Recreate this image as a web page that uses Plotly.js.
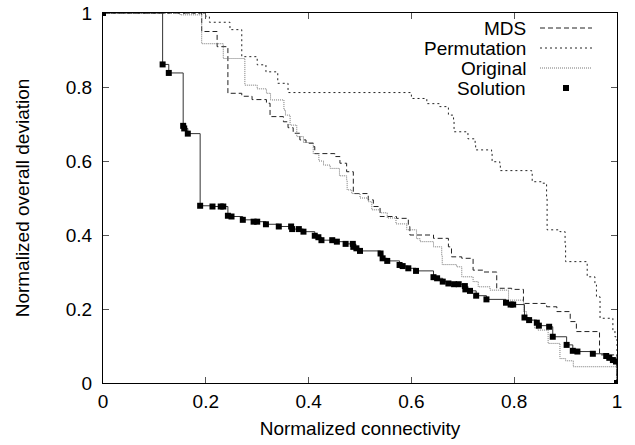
<!DOCTYPE html>
<html>
<head>
<meta charset="utf-8">
<script src="https://cdn.plot.ly/plotly-3.0.1.min.js"></script>
<style>html,body{margin:0;padding:0;background:#fff}#chart{width:635px;height:445px}</style>
</head>
<body>
<div id="chart"></div>
<script>
// ---- data ----
const mdsX = [0, 0.192, 0.222, 0.243, 0.27, 0.29, 0.318, 0.325, 0.351, 0.36, 0.37, 0.383, 0.395, 0.409, 0.412, 0.451, 0.461, 0.474, 0.487, 0.516, 0.526, 0.539, 0.571, 0.594, 0.597, 0.643, 0.672, 0.678, 0.698, 0.72, 0.74, 0.766, 0.795, 0.818, 0.863, 0.883, 0.909, 0.921, 0.966, 1.0];
const mdsY = [1, 0.95, 0.909, 0.783, 0.775, 0.766, 0.756, 0.72, 0.706, 0.69, 0.675, 0.657, 0.648, 0.639, 0.62, 0.612, 0.594, 0.571, 0.512, 0.495, 0.477, 0.45, 0.445, 0.423, 0.40, 0.391, 0.368, 0.341, 0.337, 0.305, 0.30, 0.256, 0.253, 0.215, 0.206, 0.193, 0.166, 0.139, 0.076, 0];

const permX = [0, 0.2, 0.207, 0.247, 0.27, 0.3, 0.317, 0.34, 0.36, 0.6, 0.63, 0.655, 0.672, 0.682, 0.683, 0.71, 0.724, 0.725, 0.756, 0.757, 0.772, 0.773, 0.834, 0.835, 0.855, 0.863, 0.864, 0.889, 0.899, 0.9, 0.941, 0.942, 0.957, 0.96, 0.967, 0.992, 0.996, 1.0];
const permY = [1, 0.99, 0.975, 0.955, 0.882, 0.86, 0.841, 0.81, 0.785, 0.769, 0.755, 0.747, 0.724, 0.706, 0.679, 0.66, 0.648, 0.63, 0.625, 0.598, 0.589, 0.574, 0.571, 0.544, 0.54, 0.504, 0.414, 0.409, 0.377, 0.328, 0.325, 0.287, 0.265, 0.233, 0.175, 0.143, 0.125, 0];

const origX = [0, 0.15, 0.192, 0.234, 0.276, 0.3, 0.318, 0.326, 0.352, 0.355, 0.364, 0.377, 0.39, 0.409, 0.42, 0.429, 0.442, 0.46, 0.474, 0.475, 0.484, 0.5, 0.516, 0.523, 0.54, 0.553, 0.57, 0.591, 0.61, 0.617, 0.643, 0.659, 0.66, 0.688, 0.698, 0.72, 0.73, 0.753, 0.789, 0.818, 0.824, 0.84, 0.846, 0.866, 0.889, 0.9, 0.915, 1.0];
const origY = [1, 0.995, 0.917, 0.877, 0.805, 0.795, 0.783, 0.765, 0.738, 0.724, 0.697, 0.666, 0.65, 0.62, 0.6, 0.589, 0.58, 0.56, 0.549, 0.522, 0.512, 0.5, 0.49, 0.468, 0.46, 0.446, 0.43, 0.414, 0.39, 0.382, 0.368, 0.346, 0.32, 0.314, 0.287, 0.274, 0.26, 0.251, 0.224, 0.193, 0.17, 0.148, 0.143, 0.107, 0.066, 0.06, 0.044, 0];

const solX = [0, 0.116, 0.128, 0.156, 0.158, 0.165, 0.189, 0.213, 0.229, 0.234, 0.243, 0.250, 0.272, 0.293, 0.300, 0.317, 0.342, 0.366, 0.368, 0.381, 0.390, 0.412, 0.419, 0.425, 0.446, 0.455, 0.472, 0.486, 0.487, 0.493, 0.500, 0.540, 0.544, 0.553, 0.577, 0.583, 0.594, 0.609, 0.643, 0.650, 0.661, 0.672, 0.683, 0.692, 0.704, 0.705, 0.714, 0.726, 0.746, 0.784, 0.793, 0.798, 0.820, 0.829, 0.844, 0.848, 0.868, 0.875, 0.902, 0.914, 0.923, 0.953, 0.979, 0.985, 0.992, 0.998, 1.0];
const solY = [1, 0.861, 0.838, 0.695, 0.688, 0.674, 0.479, 0.477, 0.477, 0.477, 0.452, 0.450, 0.441, 0.436, 0.436, 0.429, 0.423, 0.423, 0.416, 0.416, 0.409, 0.398, 0.394, 0.386, 0.386, 0.382, 0.376, 0.376, 0.368, 0.364, 0.357, 0.350, 0.337, 0.330, 0.319, 0.316, 0.310, 0.303, 0.286, 0.283, 0.274, 0.269, 0.267, 0.267, 0.262, 0.253, 0.249, 0.236, 0.226, 0.217, 0.212, 0.212, 0.177, 0.170, 0.163, 0.155, 0.152, 0.125, 0.103, 0.087, 0.085, 0.079, 0.073, 0.068, 0.062, 0.058, 0.0];

const seriesNames = ["MDS", "Permutation", "Original", "Solution"];
const tickVals = [0, 0.2, 0.4, 0.6, 0.8, 1];
const tickText = ["0", "0.2", "0.4", "0.6", "0.8", "1"];

// ---- styles ----
const FONT = "Liberation Sans, Arial, Helvetica, sans-serif";
const styles = {
  MDS: {color: "#222", dash: "5px,3px", width: 1},
  Permutation: {color: "#222", dash: "2px,3px", width: 1},
  Original: {color: "#777", dash: "1px,1px", width: 1}
};

const traces = [
  {x: mdsX, y: mdsY, name: "MDS", mode: "lines", line: Object.assign({shape: "hv"}, styles.MDS)},
  {x: permX, y: permY, name: "Permutation", mode: "lines", line: Object.assign({shape: "hv"}, styles.Permutation)},
  {x: origX, y: origY, name: "Original", mode: "lines", line: Object.assign({shape: "hv"}, styles.Original)},
  {x: solX, y: solY, name: "Solution line", mode: "lines", line: {shape: "hv", color: "#333", width: 1}},
  {x: solX, y: solY, name: "Solution", mode: "markers", marker: {symbol: "square", size: 6, color: "#000"}}
];

// ---- custom gnuplot-style legend (text right-aligned, sample on the right) ----
const W = 514, H = 370;
const legY = [28, 48, 68, 88];
const annotations = [];
const shapes = [];
seriesNames.forEach((n, i) => {
  const yp = (383 - legY[i]) / H;
  annotations.push({xref: "paper", yref: "paper", x: (527 - 103) / W, y: yp, xanchor: "right", yanchor: "middle",
    text: n, showarrow: false, borderpad: 0, font: {family: FONT, size: 19, color: "#000"}});
  if (styles[n]) {
    shapes.push({type: "line", xref: "paper", yref: "paper", x0: (540 - 103) / W, x1: (592 - 103) / W, y0: yp, y1: yp,
      line: {color: styles[n].color, dash: styles[n].dash, width: 1}});
  } else {
    shapes.push({type: "rect", xref: "paper", yref: "paper", x0: (563 - 103) / W, x1: (569 - 103) / W,
      y0: yp - 3 / H, y1: yp + 3 / H, fillcolor: "#000", line: {width: 0}});
  }
});

const axisCommon = {
  range: [0, 1], tickvals: tickVals, ticktext: tickText, ticks: "inside", ticklen: 6, tickcolor: "#555",
  showline: true, linecolor: "#000", linewidth: 1, mirror: "allticks", showgrid: false, zeroline: false,
  tickfont: {family: FONT, size: 19, color: "#000"}, fixedrange: true, automargin: false
};

const layout = {
  width: 635, height: 445,
  margin: {l: 103, r: 18, t: 13, b: 62},
  paper_bgcolor: "#fff", plot_bgcolor: "#fff",
  showlegend: false,
  xaxis: Object.assign({}, axisCommon, {ticklabelstandoff: 1, title: {text: "Normalized connectivity", standoff: 10,
    font: {family: FONT, size: 19, color: "#000"}}}),
  yaxis: Object.assign({}, axisCommon, {ticklabelstandoff: 6, title: {text: "Normalized overall deviation", standoff: 31,
    font: {family: FONT, size: 19, color: "#000"}}}),
  annotations: annotations,
  shapes: shapes
};

Plotly.newPlot("chart", traces, layout, {displayModeBar: false, staticPlot: true});
</script>
</body>
</html>
